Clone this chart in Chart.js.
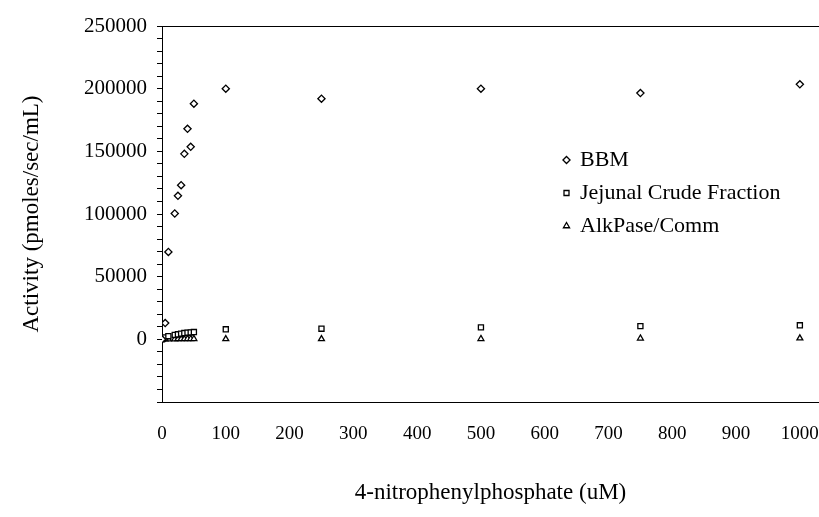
<!DOCTYPE html>
<html>
<head>
<meta charset="utf-8">
<script src="https://cdn.jsdelivr.net/npm/chart.js@4"></script>
<style>
  html, body { margin: 0; padding: 0; background: #fff; }
  #wrap { width: 819px; height: 517px; position: relative; }
</style>
</head>
<body>
<div id="wrap"><canvas id="chart"></canvas></div>
<script>
// substrate concentrations (uM)
const substrate = [0, 5, 10, 20, 25, 30, 35, 40, 45, 50, 100, 250, 500, 750, 1000];

// activity, pmoles/sec/mL
const bbm = [0, 13000, 69700, 100400, 114500, 123000, 148000, 168000, 153600, 188000, 200000, 192000, 200000, 196500, 203500];
const jejunal = [0, 1500, 2500, 3500, 4000, 4500, 5000, 5300, 5500, 5800, 8000, 8500, 9500, 10500, 11200];
const alkPase = [0, 100, 200, 200, 300, 300, 300, 400, 400, 400, 300, 300, 400, 800, 900];

const seriesNames = ["BBM", "Jejunal Crude Fraction", "AlkPase/Comm"];
const yLabelled = [0, 50000, 100000, 150000, 200000, 250000];

Chart.defaults.font.family = "'Liberation Serif', 'Times New Roman', serif";
Chart.defaults.color = "#000";

let toPoints = (ys) => substrate.map((x, i) => ({ x: x, y: ys[i] }));

let series = (label, ys, style, r) => ({
  label: label,
  data: toPoints(ys),
  showLine: false,
  pointStyle: style,
  pointRadius: r,
  pointHoverRadius: r,
  pointBorderWidth: 1.3,
  pointBorderColor: "#000",
  pointBackgroundColor: "#fff",
  borderColor: "#000",
  backgroundColor: "#fff",
});

// move the legend into the plot, right of the curve
const legendSpot = {
  id: "legendSpot",
  afterLayout(chart) {
    const lg = chart.legend;
    const w = lg.width, h = lg.height;
    lg.left = 553;
    lg.top = 138;
    lg.right = lg.left + w;
    lg.bottom = lg.top + h;
  }
};

const ctx = document.getElementById("chart").getContext("2d");

new Chart(ctx, {
  type: "scatter",
  data: {
    datasets: [
      series(seriesNames[0], bbm, "rectRot", 3.6),
      series(seriesNames[1], jejunal, "rect", 3.6),
      series(seriesNames[2], alkPase, "triangle", 3.4),
    ],
  },
  options: {
    responsive: true,
    maintainAspectRatio: false,
    animation: false,
    layout: { autoPadding: false, padding: { left: 10, right: 0, top: 0, bottom: 0 } },
    plugins: {
      tooltip: { enabled: false },
      legend: {
        position: "chartArea",
        align: "start",
        labels: {
          usePointStyle: true,
          boxWidth: 5,
          boxHeight: 5,
          padding: 11,
          font: { size: 22 },
          color: "#000",
        },
      },
    },
    scales: {
      x: {
        type: "linear",
        min: 0,
        max: 1030,
        offset: false,
        border: { display: true, color: "#000", width: 1 },
        grid: { display: true, drawOnChartArea: false, drawTicks: false },
        ticks: {
          stepSize: 100,
          includeBounds: false,
          maxRotation: 0,
          autoSkip: false,
          padding: 21,
          font: { size: 19 },
          color: "#000",
          callback: (v) => String(v),
        },
        title: {
          display: true,
          text: "4-nitrophenylphosphate (uM)",
          font: { size: 23 },
          color: "#000",
          padding: { top: 0, bottom: 10 },
        },
        afterFit(scale) {
          scale.height = 115;
          scale.paddingLeft = 0;
          scale.paddingRight = 0;
        },
      },
      xTop: {
        type: "linear",
        position: "top",
        min: 0,
        max: 1030,
        border: { display: true, color: "#000", width: 1 },
        grid: { display: false },
        ticks: { display: false },
        afterFit(scale) {
          scale.height = 26;
          scale.paddingLeft = 0;
          scale.paddingRight = 0;
        },
      },
      y: {
        type: "linear",
        min: -50000,
        max: 250000,
        border: { display: true, color: "#000", width: 1 },
        grid: { display: true, drawOnChartArea: false, drawTicks: true, tickLength: 5, color: "#000" },
        ticks: {
          stepSize: 10000,
          autoSkip: false,
          padding: 10,
          font: { size: 21 },
          color: "#000",
          callback: (v) => (yLabelled.includes(v) ? String(v) : ""),
        },
        title: {
          display: true,
          text: "Activity (pmoles/sec/mL)",
          font: { size: 23 },
          color: "#000",
          padding: { top: 8, bottom: 0 },
        },
        afterFit(scale) {
          scale.width = 152;
        },
      },
    },
  },
  plugins: [legendSpot],
});
</script>
</body>
</html>
